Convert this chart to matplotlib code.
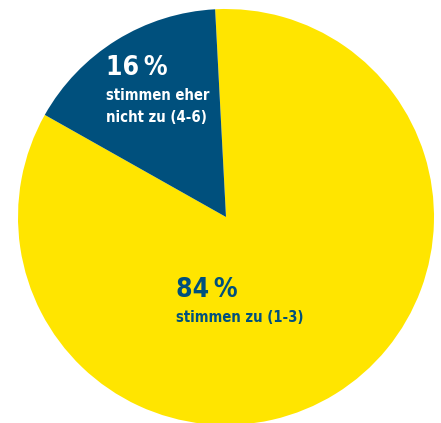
import matplotlib.pyplot as plt

# Data
labels = ['stimmen zu (1-3)', 'stimmen eher\nnicht zu (4-6)']
shares = [84, 16]
colors = ['#ffe500', '#00507d']
text_colors = ['#00507d', 'white']

W, H = 441, 423
fig = plt.figure(figsize=(W / 100, H / 100), dpi=100)
ax = fig.add_axes([0, 0, 1, 1])

# pie in pixel coordinates: centre (226, 217 from top), radius 208
ax.pie(shares, colors=colors, startangle=150.6, counterclock=True,
       center=(226, H - 217), radius=208, frame=True,
       wedgeprops=dict(linewidth=0))
ax.set_xlim(0, W)
ax.set_ylim(0, H)
ax.set_aspect('equal')
ax.axis('off')

# label positions (left, baseline of percent, from top)
pos = [(176, 297), (106, 75)]
for lab, val, tc, (x, y) in zip(labels, shares, text_colors, pos):
    ax.text(x, H - y, f'{val}\u2009%', color=tc, fontsize=19,
            fontweight='bold', fontstretch='condensed', family='DejaVu Sans',
            ha='left', va='baseline')
    ax.text(x, H - y - 13, lab, color=tc, fontsize=10.6, fontweight='bold',
            fontstretch='condensed', family='DejaVu Sans',
            ha='left', va='top', linespacing=1.55)

fig.savefig('out.png', dpi=100)
